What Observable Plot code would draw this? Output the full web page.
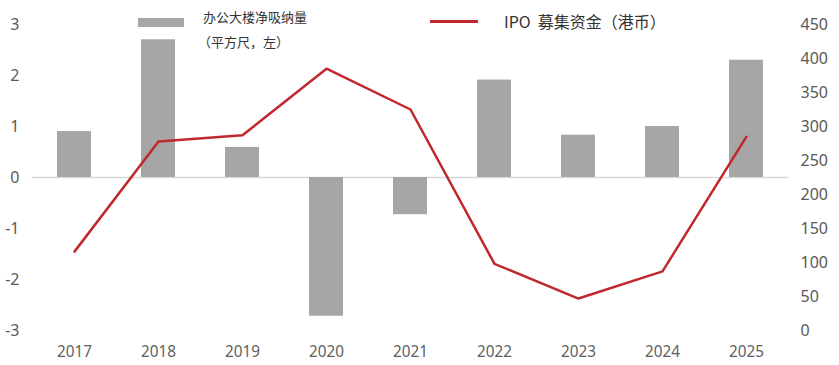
<!DOCTYPE html>
<html><head><meta charset="utf-8">
<script src="https://cdn.jsdelivr.net/npm/d3@7"></script>
<script src="https://cdn.jsdelivr.net/npm/@observablehq/plot@0.6"></script>
<style>
body{margin:0;background:#fff;}
#wrap{position:relative;width:839px;height:365px;overflow:hidden;}
.lg{position:absolute;font-family:"Noto Sans CJK SC","Noto Sans",sans-serif;color:#333;white-space:pre;line-height:1;}
.sw{position:absolute;}
</style></head><body><div id="wrap"></div>
<script>
const years = ["2017","2018","2019","2020","2021","2022","2023","2024","2025"];
const absorption = [0.9, 2.7, 0.59, -2.72, -0.73, 1.91, 0.83, 1.0, 2.3];
const ipoFunds = [116, 278, 287, 385, 325, 98, 47, 87, 285];
const leftTicks = [-3, -2, -1, 0, 1, 2, 3];
const rightTicks = [0, 50, 100, 150, 200, 250, 300, 350, 400, 450];
const barLabel = "办公大楼净吸纳量";
const barLabel2 = "（平方尺，左）";
const lineLabel = "IPO  募集资金（港币）";

const table = years.map((y, i) => ({year: y, abs: absorption[i], ipo: ipoFunds[i]}));
const toLeft = v => v / 75 - 3;

const chart = Plot.plot({
  width: 839, height: 365,
  marginLeft: 31.5, marginRight: 50.5, marginTop: 24, marginBottom: 35,
  style: {fontFamily: "'Noto Sans', sans-serif", background: "transparent", color: "#595959"},
  x: {type: "band", domain: years, paddingInner: 0.6, paddingOuter: 0.3, label: null},
  y: {domain: [-3, 3], label: null},
  marks: [
    Plot.ruleY([0], {stroke: "#d9d9d9", strokeWidth: 1.5}),
    Plot.barY(table, {x: "year", y: "abs", fill: "#a6a6a6"}),
    Plot.line(table, {x: "year", y: d => toLeft(d.ipo), stroke: "#c0282e", strokeWidth: 2.5}),
    Plot.axisY(leftTicks, {anchor: "left", label: null, tickSize: 0, tickPadding: 12.5, fontSize: 16, color: "#595959", tickFormat: d => String(d)}),
    Plot.axisY(rightTicks.map(toLeft), {anchor: "right", label: null, tickSize: 0, tickPadding: 11.5, fontSize: 16, color: "#595959", tickFormat: d => String(Math.round((d + 3) * 75))}),
    Plot.axisX(years, {label: null, tickSize: 0, tickPadding: 14, fontSize: 17, color: "#606060"})
  ]
});
d3.select(chart).selectAll('g[aria-label="x-axis tick label"] text')
  .attr("textLength", 35).attr("lengthAdjust", "spacingAndGlyphs");
const wrap = document.getElementById("wrap");
wrap.appendChild(chart);

function add(cls, css, text) {
  const d = document.createElement("div");
  d.className = cls;
  d.style.cssText = css;
  if (text) d.textContent = text;
  wrap.appendChild(d);
}
add("sw", "left:138px;top:18px;width:46px;height:9px;background:#a6a6a6;");
add("lg", "left:203px;top:10px;font-size:13px;", barLabel);
add("lg", "left:198px;top:35px;font-size:13px;", barLabel2);
add("sw", "left:430px;top:20px;width:48px;height:3px;background:#c0282e;");
add("lg", "left:504px;top:13px;font-size:16px;", lineLabel);
</script>
</body></html>
